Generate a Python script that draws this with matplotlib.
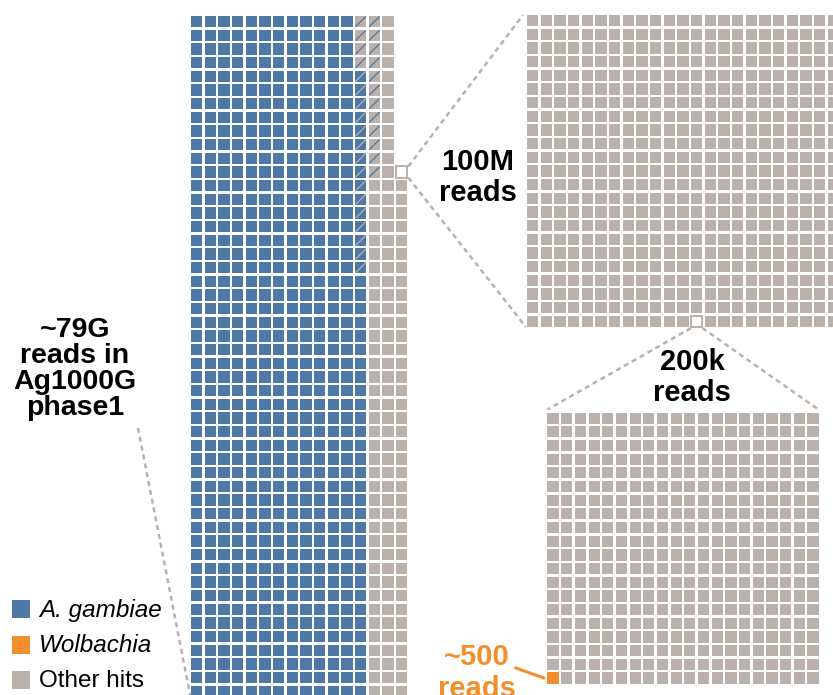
import matplotlib.pyplot as plt
from matplotlib.patches import Rectangle

# Colores (paleta tipo Tableau)
BLUE = '#4E79A7'
ORANGE = '#F28E2B'
GRAY = '#BAB0AC'

# Waffle principal: cada celda ~100M reads
main_rows = 50
main_total_per_col = [50] * 15 + [39]
main_blue_per_col = [50] * 12 + [46, 0, 0, 0]
main_hatch_per_col = [0] * 12 + [19, 12, 0, 0]   # celdas inciertas (arriba)

# Zoom 1: 100M reads, cada celda 200k
z1_rows, z1_cols = 23, 23
z1_highlight = (22, 12)

# Zoom 2: 200k reads, cada celda ~500
z2_rows, z2_cols = 20, 20
z2_orange = 1

# Textos
label_main = "~79G\nreads in\nAg1000G\nphase1"
label_z1 = "100M\nreads"
label_z2 = "200k\nreads"
label_wol = "~500\nreads"
legend_labels = ["A. gambiae", "Wolbachia", "Other hits"]
legend_colors = [BLUE, ORANGE, GRAY]
legend_italic = [True, True, False]

# Geometria (pixeles)
W, H = 833, 695
P = 13.67      # paso de celda
CELL = 11.3    # lado de celda
MAIN_X0, MAIN_Y0 = 191, 16
Z1_X0, Z1_Y0 = 527, 15
Z2_X0, Z2_Y0 = 547.5, 412.5

plt.rcParams['font.family'] = ['Liberation Sans', 'DejaVu Sans']

fig = plt.figure(figsize=(W / 100, H / 100), dpi=100)
ax = fig.add_axes([0, 0, 1, 1])
ax.set_xlim(0, W)
ax.set_ylim(H, 0)
ax.axis('off')


def draw_cell(x, y, face, line=None, edge=None):
    ax.add_patch(Rectangle((x, y), CELL, CELL, facecolor=face,
                           edgecolor=edge if edge else 'none',
                           lw=1.4 if edge else 0, zorder=2))
    if line:
        ax.plot([x + 0.5, x + CELL - 0.5], [y + CELL - 0.5, y + 0.5],
                color=line, lw=0.9, solid_capstyle='butt', zorder=3)


def dashed(p0, p1):
    ax.plot([p0[0], p1[0]], [p0[1], p1[1]], color=GRAY, lw=1.8,
            linestyle=(0, (2.0, 1.6)), zorder=1)


# Waffle principal (se llena de abajo hacia arriba)
main_hl = None
for c, total in enumerate(main_total_per_col):
    for k in range(total):
        r = main_rows - 1 - k
        x = MAIN_X0 + c * P
        y = MAIN_Y0 + r * P
        is_blue = k < main_blue_per_col[c]
        hatched = r < main_hatch_per_col[c]
        if k == total - 1 and total < main_rows:
            draw_cell(x, y, 'white', edge=GRAY)
            main_hl = (x, y)
            continue
        face = BLUE if is_blue else GRAY
        line = (GRAY if is_blue else BLUE) if hatched else None
        draw_cell(x, y, face, line)

# Zoom 1
for r in range(z1_rows):
    for c in range(z1_cols):
        x = Z1_X0 + c * P
        y = Z1_Y0 + r * P
        if (r, c) == z1_highlight:
            draw_cell(x, y, 'white', edge=GRAY)
        else:
            draw_cell(x, y, GRAY)

# Zoom 2 (orange en la esquina inferior izquierda)
n = 0
for c in range(z2_cols):
    for r in range(z2_rows - 1, -1, -1):
        x = Z2_X0 + c * P
        y = Z2_Y0 + r * P
        draw_cell(x, y, ORANGE if n < z2_orange else GRAY)
        n += 1

# Lineas de zoom
hx, hy = main_hl
dashed((hx + CELL + 1, hy), (Z1_X0 - 4, Z1_Y0))
dashed((hx + CELL + 1, hy + CELL), (Z1_X0 - 1, Z1_Y0 + (z1_rows - 1) * P + CELL))
zx = Z1_X0 + z1_highlight[1] * P
zy = Z1_Y0 + z1_highlight[0] * P + CELL
dashed((zx, zy + 1), (Z2_X0, Z2_Y0 - 3))
dashed((zx + CELL, zy + 1), (Z2_X0 + (z2_cols - 1) * P + CELL, Z2_Y0 - 3))
dashed((138, 428), (MAIN_X0, MAIN_Y0 + main_rows * P))

# Linea naranja hacia la celda de Wolbachia
oy = Z2_Y0 + (z2_rows - 1) * P + CELL / 2
ax.plot([516, Z2_X0 - 4], [668, oy], color=ORANGE, lw=2.2, zorder=3)

# Etiquetas
bold = dict(ha='center', va='top', fontweight='bold')
ax.text(75, 317, label_main, color='black', fontsize=20.5, linespacing=1.0, **bold)
ax.text(478, 148, label_z1, color='black', fontsize=21, linespacing=1.12, **bold)
ax.text(692, 348, label_z2, color='black', fontsize=21, linespacing=1.12, **bold)
ax.text(477, 643, label_wol, color=ORANGE, fontsize=21, linespacing=1.2, **bold)

# Leyenda
for i, (lab, col, it) in enumerate(zip(legend_labels, legend_colors, legend_italic)):
    yc = 609 + i * 35.5
    ax.add_patch(Rectangle((12, yc - 9), 18, 18, facecolor=col, edgecolor='none'))
    ax.text(39, yc + 1, lab, ha='left', va='center', fontsize=17.5,
            style='italic' if it else 'normal', color='black')

plt.savefig('out.png', dpi=100)
